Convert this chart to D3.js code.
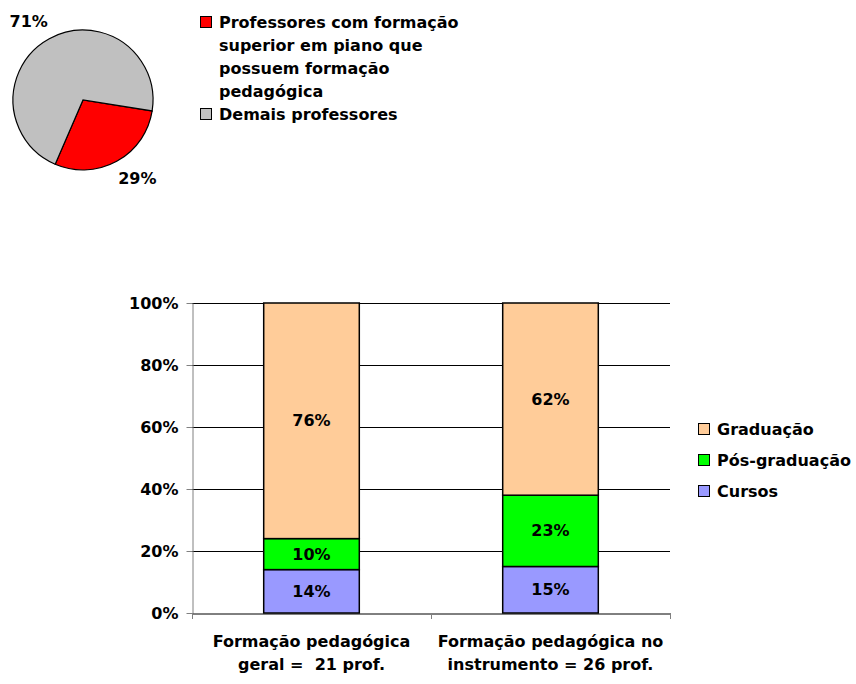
<!DOCTYPE html>
<html>
<head>
<meta charset="utf-8">
<script src="https://cdn.jsdelivr.net/npm/d3@7"></script>
<style>
  html, body { margin: 0; padding: 0; background: #fff; }
  svg text { font-family: "DejaVu Sans", Verdana, sans-serif; font-weight: bold; fill: #000; white-space: pre; }
</style>
</head>
<body>
<svg id="chart" width="856" height="684"></svg>
<script>
// Pie: share of pianists with pedagogical training
const pieLabels = ["Professores com formação superior em piano que possuem formação pedagógica", "Demais professores"];
const pieLegendLines = [["Professores com formação", "superior em piano que", "possuem formação", "pedagógica"], ["Demais professores"]];
const pieValues = [29, 71];
const pieColors = ["#FF0000", "#C0C0C0"];

// Stacked bars: kind of pedagogical training
const barCategories = ["Formação pedagógica geral =  21 prof.", "Formação pedagógica no instrumento = 26 prof."];
const barCategoryLines = [["Formação pedagógica", "geral =  21 prof."], ["Formação pedagógica no", "instrumento = 26 prof."]];
const seriesNames = ["Cursos", "Pós-graduação", "Graduação"];
const cursos = [14, 15];
const posGraduacao = [10, 23];
const graduacao = [76, 62];
const seriesColors = ["#9999FF", "#00FF00", "#FFCC99"];
const yTicks = [0, 20, 40, 60, 80, 100];

const svg = d3.select("#chart");
const fs = 16;

// ---------- Pie ----------
const pieG = svg.append("g").attr("transform", "translate(83,100)");
const radius = 70;
const start = 99 * Math.PI / 180;
const pie = d3.pie().sort(null).startAngle(start).endAngle(start + 2 * Math.PI)(pieValues);
const arc = d3.arc().innerRadius(0).outerRadius(radius);
pieG.selectAll("path").data(pie).join("path")
  .attr("d", arc)
  .attr("fill", (d, i) => pieColors[i])
  .attr("stroke", "#000").attr("stroke-width", 1.2);

const labelArc = d3.arc().innerRadius(radius + 20).outerRadius(radius + 20);
pieG.selectAll("text.pl").data(pie).join("text")
  .attr("class", "pl")
  .attr("x", d => { const cx = labelArc.centroid(d)[0]; return cx + Math.sign(cx) * 11; })
  .attr("y", d => labelArc.centroid(d)[1])
  .attr("text-anchor", "middle").attr("dy", "0.35em")
  .style("font-size", fs + "px")
  .text(d => d.value + "%");

// Pie legend
const pl = svg.append("g").attr("transform", "translate(200,22)");
let row = 0;
pieLegendLines.forEach((lines, i) => {
  pl.append("rect").attr("x", 0.5).attr("y", row * 23 - 5.5).attr("width", 11).attr("height", 11)
    .attr("fill", pieColors[i]).attr("stroke", "#000");
  lines.forEach((t, j) => {
    pl.append("text").attr("x", 19).attr("y", (row + j) * 23).attr("dy", "0.35em")
      .style("font-size", fs + "px").text(t);
  });
  row += lines.length;
});

// ---------- Stacked bars ----------
const plot = { left: 192, right: 670, top: 303, bottom: 613 };
const x = d3.scaleBand().domain(barCategories).range([plot.left, plot.right]).paddingInner(0.6).paddingOuter(0.3);
const y = d3.scaleLinear().domain([0, 100]).range([plot.bottom, plot.top]);

const table = barCategories.map((c, i) => ({ cat: c, "Cursos": cursos[i], "Pós-graduação": posGraduacao[i], "Graduação": graduacao[i] }));
const stacked = d3.stack().keys(seriesNames)(table);

// gridlines
svg.append("g").selectAll("line").data(yTicks.filter(t => t > 0)).join("line")
  .attr("x1", plot.left).attr("x2", plot.right)
  .attr("y1", d => Math.round(y(d)) + 0.5).attr("y2", d => Math.round(y(d)) + 0.5)
  .attr("stroke", "#000").attr("stroke-width", 1);

// y axis
const yAxis = svg.append("g").attr("transform", `translate(${plot.left + 0.5},0)`)
  .call(d3.axisLeft(y).tickValues(yTicks).tickFormat(d => d + "%").tickSize(6).tickSizeOuter(0));
yAxis.attr("font-family", null).attr("font-size", null);
yAxis.select(".domain").attr("stroke", "#808080");
yAxis.selectAll(".tick line").attr("stroke", "#808080");
yAxis.selectAll("text").style("font-size", fs + "px").attr("x", -14);

// x axis
const xAxis = svg.append("g").attr("transform", `translate(0,${plot.bottom + 0.5})`)
  .call(d3.axisBottom(x).tickSize(0).tickSizeOuter(0).tickFormat(""));
xAxis.select(".domain").attr("stroke", "#000");
xAxis.selectAll(".tick").remove();
const sepX = [plot.left, plot.left + (plot.right - plot.left) / 2, plot.right];
svg.append("g").selectAll("line").data(sepX).join("line")
  .attr("x1", d => Math.round(d) + 0.5).attr("x2", d => Math.round(d) + 0.5)
  .attr("y1", plot.bottom).attr("y2", plot.bottom + 6)
  .attr("stroke", "#808080");

// bars
const layers = svg.append("g").selectAll("g").data(stacked).join("g")
  .attr("fill", (d, i) => seriesColors[i]);
layers.selectAll("rect").data(d => d).join("rect")
  .attr("x", d => x(d.data.cat))
  .attr("width", x.bandwidth())
  .attr("y", d => y(d[1]))
  .attr("height", d => y(d[0]) - y(d[1]))
  .attr("stroke", "#000").attr("stroke-width", 1.5);

// segment value labels, centred in each segment
layers.selectAll("text").data(d => d).join("text")
  .attr("x", d => x(d.data.cat) + x.bandwidth() / 2)
  .attr("y", d => (y(d[1]) + y(d[0])) / 2)
  .attr("text-anchor", "middle").attr("dy", "0.35em")
  .attr("fill", "#000")
  .style("font-size", fs + "px")
  .text(d => (d[1] - d[0]) + "%");

// category labels
barCategories.forEach((c, i) => {
  barCategoryLines[i].forEach((t, j) => {
    svg.append("text").attr("x", x(c) + x.bandwidth() / 2).attr("y", 641 + j * 23)
      .attr("text-anchor", "middle").attr("dy", "0.35em")
      .style("font-size", fs + "px").text(t);
  });
});

// bar legend
const bl = svg.append("g").attr("transform", "translate(698,429)");
seriesNames.slice().reverse().forEach((s, i) => {
  const idx = seriesNames.indexOf(s);
  bl.append("rect").attr("x", 0.5).attr("y", i * 31 - 5.5).attr("width", 11).attr("height", 11)
    .attr("fill", seriesColors[idx]).attr("stroke", "#000");
  bl.append("text").attr("x", 19).attr("y", i * 31).attr("dy", "0.35em")
    .style("font-size", fs + "px").text(s);
});
</script>
</body>
</html>
